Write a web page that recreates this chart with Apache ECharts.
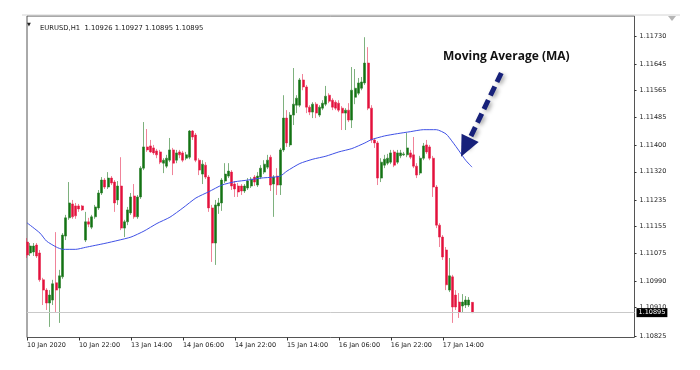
<!DOCTYPE html>
<html><head><meta charset="utf-8">
<script src="https://cdn.jsdelivr.net/npm/echarts@6/dist/echarts.min.js"></script>
<style>html,body{margin:0;padding:0;background:#fff}#c{width:700px;height:370px}</style>
</head><body><div id="c"></div>
<script>
const symbolName = 'EURUSD,H1';
const sessions = [['10 Jan',6,23],['13 Jan',0,23],['14 Jan',0,23],['15 Jan',0,23],['16 Jan',0,23],['17 Jan',0,23]];
const xTickLabels = ['10 Jan 2020','10 Jan 22:00','13 Jan 14:00','14 Jan 06:00','14 Jan 22:00','15 Jan 14:00','16 Jan 06:00','16 Jan 22:00','17 Jan 14:00'];
const yTickLabels = [1.11730,1.11645,1.11565,1.11485,1.11400,1.11320,1.11235,1.11155,1.11075,1.10990,1.10910,1.10825];
const emptyBarsRight = 50;

const opens = [1.11108,1.11075,1.11078,1.11099,1.11075,1.10994,1.10963,1.10924,1.10933,1.10985,
1.10969,1.11003,1.11126,1.11181,1.11223,1.11217,1.11217,1.11217,1.11114,1.11169,
1.11153,1.11184,1.11211,1.11256,1.11295,1.11274,1.11301,1.11289,1.11235,1.11277,
1.11150,1.11169,1.11196,1.11247,1.11184,1.11244,1.11331,1.11395,1.11398,1.11392,
1.11383,1.11380,1.11346,1.11337,1.11355,1.11386,1.11355,1.11380,1.11377,1.11361,
1.11364,1.11443,1.11431,1.11355,1.11313,1.11340,1.11304,1.11211,1.11105,1.11217,
1.11226,1.11292,1.11307,1.11319,1.11283,1.11277,1.11277,1.11262,1.11271,1.11277,
1.11304,1.11280,1.11304,1.11319,1.11334,1.11364,1.11283,1.11307,1.11280,1.11386,
1.11482,1.11401,1.11491,1.11521,1.11521,1.11597,1.11576,1.11515,1.11500,1.11524,
1.11491,1.11512,1.11524,1.11551,1.11536,1.11530,1.11527,1.11512,1.11497,1.11506,
1.11476,1.11545,1.11557,1.11572,1.11588,1.11648,1.11512,1.11416,1.11407,1.11301,
1.11340,1.11346,1.11349,1.11380,1.11349,1.11368,1.11371,1.11371,1.11377,1.11371,
1.11337,1.11316,1.11361,1.11401,1.11395,1.11361,1.11274,1.11159,1.11123,1.11084,
1.10963,1.11003,1.10948,1.10927,1.10915,1.10918,1.10918,1.10926];

const closes = [1.11069,1.11096,1.11096,1.11066,1.10994,1.10963,1.10924,1.10948,1.10982,1.10963,
1.11006,1.11129,1.11181,1.11226,1.11184,1.11187,1.11208,1.11205,1.11169,1.11162,
1.11184,1.11214,1.11256,1.11295,1.11274,1.11301,1.11286,1.11226,1.11277,1.11150,
1.11169,1.11205,1.11244,1.11184,1.11244,1.11331,1.11395,1.11386,1.11380,1.11377,
1.11371,1.11349,1.11355,1.11361,1.11386,1.11346,1.11377,1.11371,1.11355,1.11371,
1.11443,1.11425,1.11355,1.11325,1.11343,1.11304,1.11211,1.11105,1.11220,1.11226,
1.11295,1.11313,1.11322,1.11277,1.11268,1.11259,1.11262,1.11277,1.11292,1.11298,
1.11289,1.11307,1.11331,1.11343,1.11355,1.11280,1.11304,1.11280,1.11386,1.11482,
1.11407,1.11491,1.11524,1.11542,1.11597,1.11576,1.11515,1.11500,1.11524,1.11497,
1.11515,1.11527,1.11548,1.11533,1.11515,1.11512,1.11506,1.11497,1.11506,1.11476,
1.11566,1.11572,1.11588,1.11591,1.11648,1.11512,1.11416,1.11407,1.11301,1.11349,
1.11358,1.11361,1.11377,1.11340,1.11377,1.11377,1.11374,1.11392,1.11364,1.11337,
1.11310,1.11361,1.11398,1.11380,1.11361,1.11274,1.11159,1.11123,1.11063,1.10979,
1.11006,1.10912,1.10912,1.10897,1.10927,1.10933,1.10933,1.10895];

const lows = [1.11060,1.11066,1.11066,1.11060,1.10988,1.10918,1.10903,1.10852,1.10918,1.10897,
1.10864,1.10997,1.11114,1.11175,1.11178,1.11178,1.11199,1.11202,1.11108,1.11153,
1.11147,1.11178,1.11205,1.11250,1.11268,1.11268,1.11280,1.11199,1.11220,1.11144,
1.11123,1.11159,1.11190,1.11178,1.11178,1.11238,1.11325,1.11380,1.11377,1.11371,
1.11361,1.11343,1.11316,1.11331,1.11349,1.11310,1.11346,1.11361,1.11349,1.11355,
1.11358,1.11416,1.11349,1.11310,1.11283,1.11298,1.11199,1.11048,1.11039,1.11193,
1.11202,1.11286,1.11301,1.11265,1.11244,1.11244,1.11250,1.11256,1.11265,1.11271,
1.11277,1.11274,1.11298,1.11313,1.11328,1.11262,1.11184,1.11250,1.11250,1.11380,
1.11395,1.11395,1.11461,1.11497,1.11515,1.11566,1.11497,1.11491,1.11482,1.11482,
1.11485,1.11506,1.11518,1.11527,1.11506,1.11506,1.11500,1.11446,1.11446,1.11470,
1.11452,1.11524,1.11551,1.11566,1.11582,1.11506,1.11407,1.11392,1.11280,1.11289,
1.11331,1.11340,1.11343,1.11334,1.11343,1.11361,1.11368,1.11364,1.11358,1.11331,
1.11301,1.11310,1.11355,1.11374,1.11355,1.11244,1.11150,1.11093,1.11054,1.10963,
1.10957,1.10864,1.10903,1.10879,1.10897,1.10909,1.10912,1.10895];

const highs = [1.11120,1.11105,1.11105,1.11105,1.11084,1.11000,1.10969,1.10963,1.10994,1.11138,
1.11024,1.11135,1.11190,1.11289,1.11235,1.11226,1.11223,1.11220,1.11199,1.11181,
1.11190,1.11220,1.11265,1.11304,1.11301,1.11319,1.11307,1.11295,1.11292,1.11364,
1.11175,1.11214,1.11256,1.11283,1.11250,1.11337,1.11470,1.11449,1.11416,1.11401,
1.11389,1.11386,1.11361,1.11371,1.11422,1.11392,1.11386,1.11386,1.11383,1.11380,
1.11446,1.11446,1.11437,1.11361,1.11355,1.11349,1.11310,1.11220,1.11235,1.11241,
1.11301,1.11346,1.11346,1.11325,1.11292,1.11286,1.11283,1.11283,1.11301,1.11304,
1.11310,1.11319,1.11340,1.11355,1.11371,1.11371,1.11310,1.11331,1.11392,1.11551,
1.11506,1.11500,1.11633,1.11551,1.11603,1.11615,1.11582,1.11521,1.11530,1.11530,
1.11521,1.11536,1.11579,1.11557,1.11542,1.11536,1.11536,1.11518,1.11512,1.11527,
1.11636,1.11630,1.11603,1.11606,1.11726,1.11696,1.11521,1.11422,1.11413,1.11361,
1.11371,1.11374,1.11386,1.11386,1.11386,1.11386,1.11380,1.11437,1.11386,1.11425,
1.11346,1.11368,1.11407,1.11416,1.11401,1.11368,1.11280,1.11165,1.11129,1.11093,
1.11060,1.11009,1.10963,1.10954,1.10951,1.10945,1.10942,1.10927];

const maBars = [0,4,6,9,11,15,18,24,28,32,36,40,44,48,52,56,60,64,68,72,76,78,80,84,88,92,96,100,104,106,110,114,118,122,126,129,131,133,135,137];
const maValues = [1.11166,1.11135,1.11111,1.11093,1.11086,1.11086,1.11092,1.11104,1.11113,1.11123,
1.11141,1.11164,1.11183,1.11211,1.11241,1.11260,1.11280,1.11290,1.11295,1.11301,
1.11304,1.11307,1.11322,1.11345,1.11358,1.11367,1.11380,1.11390,1.11407,1.11417,
1.11428,1.11435,1.11441,1.11447,1.11447,1.11434,1.11410,1.11383,1.11355,1.11334];

const annotationText = 'Moving Average (MA)';
const arrowFrom = [146, 1.11618];
const arrowTo = [135, 1.11394];

// ---- build ----
const categories = [];
sessions.forEach(([day, h0, h1]) => {
  for (let h = h0; h <= h1; h++) categories.push(day + ' ' + String(h).padStart(2, '0') + ':00');
});
for (let i = 0; i < emptyBarsRight; i++) categories.push('empty-' + i);
const candles = opens.map((o, i) => [o, closes[i], lows[i], highs[i]]);
const maData = maBars.map((b, i) => [b, maValues[i]]);
const last = opens.length - 1;
const header = symbolName + '  ' + [opens[last], highs[last], lows[last], closes[last]].map(v => v.toFixed(5)).join(' ');
const lastPrice = closes[last];
const tickEvery = 16;
const showTick = (idx) => idx % tickEvery === 0 && idx / tickEvery < xTickLabels.length;

const FONT = 'DejaVu Sans';
const chart = echarts.init(document.getElementById('c'));
chart.setOption({
  animation: false,
  backgroundColor: '#fff',
  title: {
    text: header, left: 35, top: 20,
    textStyle: { fontFamily: FONT, fontSize: 6.8, fontWeight: 'normal', color: '#1a1a1a' }
  },
  grid: { left: 27, right: 65.5, top: 16, bottom: 32.5, show: true, borderColor: '#555', borderWidth: 1, backgroundColor: 'transparent' },
  xAxis: {
    type: 'category', data: categories, boundaryGap: false,
    axisLine: { show: false },
    axisTick: { show: true, interval: showTick, length: 3, lineStyle: { color: '#333' } },
    axisLabel: {
      interval: showTick, align: 'left', margin: 4,
      fontFamily: FONT, fontSize: 6.5, color: '#222',
      formatter: (val) => { const i = categories.indexOf(val); return (i % tickEvery === 0 && xTickLabels[i / tickEvery]) || ''; }
    },
    splitLine: { show: false }
  },
  yAxis: {
    type: 'value', position: 'right', min: 1.10820, max: 1.11790, scale: true,
    axisLine: { show: false },
    splitLine: { show: false },
    axisTick: { show: true, length: 2, customValues: yTickLabels, lineStyle: { color: '#333' } },
    axisLabel: { customValues: yTickLabels, formatter: v => v.toFixed(5), margin: 5, fontFamily: FONT, fontSize: 6.5, color: '#222' }
  },
  series: [
    {
      type: 'candlestick', data: candles, barWidth: 2.5,
      itemStyle: {
        color: '#137313', color0: '#e3103c',
        borderColor: 'rgba(40,125,40,0.6)', borderColor0: 'rgba(228,30,70,0.55)',
        borderColorDoji: '#222', borderWidth: 1
      },
      markLine: {
        silent: true, symbol: 'none', animation: false, precision: 5,
        lineStyle: { color: '#c9c9c9', type: 'solid', width: 1 },
        label: {
          show: true, position: 'end', distance: 2, formatter: lastPrice.toFixed(5),
          backgroundColor: '#000', color: '#fff', fontFamily: FONT, fontSize: 6.5, padding: [1, 2, 1, 2]
        },
        data: [{ yAxis: lastPrice }]
      }
    },
    {
      type: 'line', data: maData, showSymbol: false, smooth: 0.2,
      lineStyle: { color: '#3f51e6', width: 1 },
      z: 3,
      markLine: {
        silent: true, animation: false, precision: 5,
        symbol: ['none', 'triangle'], symbolSize: [19, 21],
        lineStyle: { color: '#17217a', width: 5, type: [10, 5], shadowColor: 'rgba(0,0,0,0.35)', shadowBlur: 4, shadowOffsetX: 2, shadowOffsetY: 2 },
        label: { show: false },
        data: [[{ coord: arrowFrom }, { coord: arrowTo }]]
      }
    }
  ],
  graphic: [
    { type: 'line', shape: { x1: 22, y1: 15, x2: 680, y2: 15 }, style: { stroke: '#d4d4d4', lineWidth: 1 }, silent: true },
    { type: 'polygon', shape: { points: [[668, 16], [676, 16], [672, 21]] }, style: { fill: '#b5b5b5' }, silent: true },
    { type: 'text', left: 27, top: 22, style: { text: '▼', fontFamily: FONT, fontSize: 5, fill: '#222' }, silent: true },
    { type: 'text', left: 443, top: 51, style: { text: annotationText, fontFamily: 'Open Sans', fontWeight: 'bold', fontSize: 12, fill: '#111' }, silent: true }
  ]
});
</script>
</body></html>
